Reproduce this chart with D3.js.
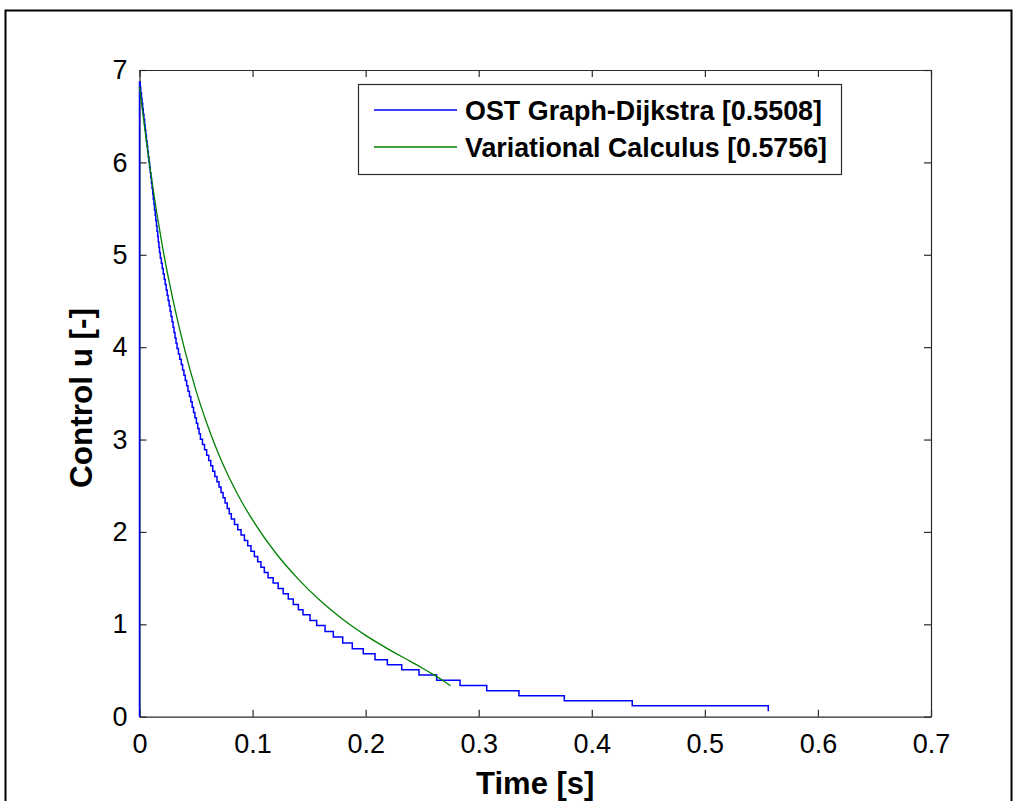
<!DOCTYPE html>
<html>
<head>
<meta charset="utf-8">
<script src="https://cdn.jsdelivr.net/npm/d3@7"></script>
<style>
  html, body { margin: 0; padding: 0; background: #fff; }
  svg { display: block; }
  text { font-family: "Liberation Sans", Arial, sans-serif; }
</style>
</head>
<body>
<div id="app"></div>
<script>
// tick labels
var xTicks = [0, 0.1, 0.2, 0.3, 0.4, 0.5, 0.6, 0.7];
var xTickLabels = ["0", "0.1", "0.2", "0.3", "0.4", "0.5", "0.6", "0.7"];
var yTicks = [0, 1, 2, 3, 4, 5, 6, 7];
var yTickLabels = ["0", "1", "2", "3", "4", "5", "6", "7"];

var seriesNames = ["OST Graph-Dijkstra [0.5508]", "Variational Calculus [0.5756]"];

// OST Graph-Dijkstra: staircase, time of each step and control level
var dijkstraT = [0,
  0, 0.0006, 0.0011, 0.0017, 0.0022, 0.0028, 0.0033, 0.0039, 0.0045, 0.0050,
  0.0056, 0.0061, 0.0067, 0.0072, 0.0078, 0.0084, 0.0089, 0.0095, 0.0100, 0.0106,
  0.0111, 0.0117, 0.0122, 0.0128, 0.0133, 0.0139, 0.0144, 0.0150, 0.0155, 0.0161,
  0.0166, 0.0172, 0.0177, 0.0184, 0.0193, 0.0201, 0.0210, 0.0219, 0.0227, 0.0236,
  0.0245, 0.0253, 0.0262, 0.0271, 0.0279, 0.0288, 0.0297, 0.0305, 0.0314, 0.0323,
  0.0332, 0.0344, 0.0356, 0.0369, 0.0381, 0.0393, 0.0405, 0.0417, 0.0429, 0.0442,
  0.0454, 0.0466, 0.0478, 0.0490, 0.0503, 0.0515, 0.0527, 0.0539, 0.0557, 0.0575,
  0.0594, 0.0612, 0.0630, 0.0648, 0.0666, 0.0685, 0.0703, 0.0721, 0.0739, 0.0757,
  0.0776, 0.0794, 0.0812, 0.0840, 0.0869, 0.0898, 0.0928, 0.0957, 0.0986, 0.1016,
  0.1045, 0.1074, 0.1104, 0.1137, 0.1182, 0.1226, 0.1271, 0.1316, 0.1360, 0.1405,
  0.1446, 0.1508, 0.1567, 0.1641, 0.1714, 0.1797, 0.1882, 0.1979, 0.2083, 0.2192,
  0.2319, 0.2472, 0.2628, 0.2835, 0.3071, 0.3356, 0.3757, 0.4358, 0.5561];
var dijkstraU = [0,
  6.870, 6.812, 6.755, 6.697, 6.639, 6.582, 6.524, 6.466, 6.408, 6.351,
  6.293, 6.235, 6.178, 6.120, 6.062, 6.005, 5.947, 5.889, 5.831, 5.774,
  5.716, 5.658, 5.601, 5.543, 5.485, 5.428, 5.370, 5.312, 5.254, 5.197,
  5.139, 5.081, 5.024, 4.966, 4.908, 4.851, 4.793, 4.735, 4.677, 4.620,
  4.562, 4.504, 4.447, 4.389, 4.331, 4.274, 4.216, 4.158, 4.100, 4.043,
  3.985, 3.927, 3.870, 3.812, 3.754, 3.697, 3.639, 3.581, 3.523, 3.466,
  3.408, 3.350, 3.293, 3.235, 3.177, 3.120, 3.062, 3.004, 2.946, 2.889,
  2.831, 2.773, 2.716, 2.658, 2.600, 2.543, 2.485, 2.427, 2.369, 2.312,
  2.254, 2.196, 2.139, 2.081, 2.023, 1.966, 1.908, 1.850, 1.792, 1.735,
  1.677, 1.619, 1.562, 1.504, 1.446, 1.389, 1.331, 1.273, 1.215, 1.158,
  1.104, 1.042, 0.988, 0.923, 0.863, 0.798, 0.736, 0.682, 0.617, 0.563,
  0.509, 0.451, 0.395, 0.339, 0.281, 0.227, 0.173, 0.119, 0.060];

// Variational Calculus: smooth curve
var variationalT = [0, 0.01, 0.02, 0.03, 0.04, 0.05, 0.06, 0.07, 0.08, 0.09,
  0.10, 0.12, 0.14, 0.16, 0.18, 0.20, 0.22, 0.24, 0.25, 0.26, 0.268, 0.275];
var variationalU = [6.82, 5.88, 5.11, 4.49, 3.97, 3.53, 3.16, 2.84, 2.57, 2.335,
  2.13, 1.78, 1.495, 1.254, 1.051, 0.88, 0.732, 0.596, 0.527, 0.455, 0.395, 0.335];

var width = 1017, height = 801;
var plotLeft = 139.5, plotRight = 931, plotTop = 70, plotBottom = 716.7;

var svg = d3.select("#app").append("svg")
  .attr("width", width).attr("height", height);

svg.append("rect").attr("width", width).attr("height", height).attr("fill", "#fff");
// outer frame
svg.append("rect")
  .attr("x", 5.5).attr("y", 10.5).attr("width", 1006).attr("height", 820)
  .attr("fill", "none").attr("stroke", "#000").attr("stroke-width", 2);

var x = d3.scaleLinear().domain([0, 0.7]).range([plotLeft, plotRight]);
var y = d3.scaleLinear().domain([0, 7]).range([plotBottom, plotTop]);

function styleAxis(g) {
  g.selectAll("path, line").attr("stroke", "#2b2b2b").attr("stroke-width", 1.2);
  g.selectAll("text").attr("fill", "#000").attr("font-size", 27)
    .style("font-family", "'Liberation Sans', Arial, sans-serif");
}

svg.append("g").attr("transform", "translate(0," + plotBottom + ")")
  .call(d3.axisBottom(x).tickValues(xTicks).tickSizeInner(-7).tickSizeOuter(0).tickPadding(17)
    .tickFormat(function (d, i) { return xTickLabels[i]; }))
  .call(styleAxis);
svg.append("g").attr("transform", "translate(0," + plotTop + ")")
  .call(d3.axisTop(x).tickValues(xTicks).tickSizeInner(-7).tickSizeOuter(0).tickFormat(""))
  .call(styleAxis);
svg.append("g").attr("transform", "translate(" + plotLeft + ",0)")
  .call(d3.axisLeft(y).tickValues(yTicks).tickSizeInner(-7).tickSizeOuter(0).tickPadding(12)
    .tickFormat(function (d, i) { return yTickLabels[i]; }))
  .call(styleAxis);
svg.append("g").attr("transform", "translate(" + plotRight + ",0)")
  .call(d3.axisRight(y).tickValues(yTicks).tickSizeInner(-7).tickSizeOuter(0).tickFormat(""))
  .call(styleAxis);

var stepLine = d3.line()
  .x(function (d, i) { return x(dijkstraT[i]); })
  .y(function (d, i) { return y(dijkstraU[i]); })
  .curve(d3.curveStepAfter);
var smoothLine = d3.line()
  .x(function (d, i) { return x(variationalT[i]); })
  .y(function (d, i) { return y(variationalU[i]); })
  .curve(d3.curveMonotoneX);

svg.append("path").datum(dijkstraT)
  .attr("fill", "none").attr("stroke", "#0000ff").attr("stroke-width", 1.5)
  .attr("d", stepLine);
svg.append("path").datum(variationalT)
  .attr("fill", "none").attr("stroke", "#008000").attr("stroke-width", 1.3)
  .attr("d", smoothLine);

// legend
var legend = svg.append("g");
legend.append("rect")
  .attr("x", 358.5).attr("y", 84.5).attr("width", 483).attr("height", 90)
  .attr("fill", "#fff").attr("stroke", "#2b2b2b").attr("stroke-width", 1.2);
var legendColors = ["#0000ff", "#008000"];
var legendY = [110, 147];
var legendTextLen = [357, 362];
seriesNames.forEach(function (name, i) {
  legend.append("line")
    .attr("x1", 374).attr("x2", 457).attr("y1", legendY[i]).attr("y2", legendY[i])
    .attr("stroke", legendColors[i]).attr("stroke-width", 1.5);
  legend.append("text")
    .attr("x", 465).attr("y", legendY[i]).attr("dy", "0.36em")
    .attr("textLength", legendTextLen[i]).attr("lengthAdjust", "spacingAndGlyphs")
    .attr("font-size", 27.5).attr("font-weight", "bold").text(name);
});

// axis labels
svg.append("text")
  .attr("x", (plotLeft + plotRight) / 2).attr("y", 794)
  .attr("text-anchor", "middle").attr("font-size", 31).attr("font-weight", "bold")
  .text("Time [s]");
svg.append("text")
  .attr("transform", "translate(92,398) rotate(-90)")
  .attr("text-anchor", "middle").attr("font-size", 31.5).attr("font-weight", "bold")
  .text("Control u [-]");
</script>
</body>
</html>
